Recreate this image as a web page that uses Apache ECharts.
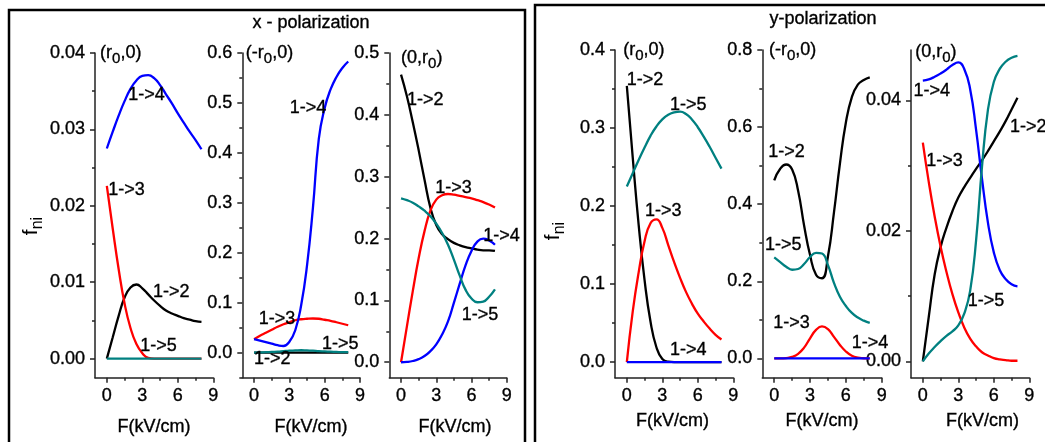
<!DOCTYPE html>
<html><head><meta charset="utf-8">
<script src="https://cdn.jsdelivr.net/npm/echarts@6/dist/echarts.min.js"></script>
<style>html,body{margin:0;padding:0;background:#fff}#c{width:1045px;height:442px}</style>
</head><body><div id="c"></div>
<script>
// ---------- data ----------
const F = [0,0.5,1,1.5,2,2.5,3,3.5,4,4.5,5,5.5,6,6.5,7,7.5,8];

// x - polarization, (r0,0)
const xr0_12 = [0,0.0028,0.0056,0.0080,0.0093,0.0097,0.0092,0.0084,0.0076,0.0069,0.0063,0.0059,0.0056,0.0053,0.0051,0.0049,0.0048];
const xr0_13 = [0.0226,0.0170,0.0117,0.0072,0.0040,0.0019,0.0007,0.0001,0,0,0,0,0,0,0,0,0];
const xr0_14 = [0.0275,0.0297,0.0318,0.0337,0.0353,0.0364,0.0370,0.0371,0.0367,0.0358,0.0346,0.0334,0.0321,0.0309,0.0297,0.0286,0.0274];
const xr0_15 = [0,0,0,0,0,0,0,0,0,0,0,0,0,0,0,0,0];
// x - polarization, (-r0,0)
const xmr0_12 = [0,0,0,0,0,0,0,0,0,0,0,0,0,0,0,0,0];
const xmr0_13 = [0.027,0.034,0.040,0.046,0.052,0.057,0.061,0.065,0.067,0.068,0.0685,0.068,0.066,0.064,0.061,0.058,0.055];
const xmr0_14 = [0.027,0.024,0.021,0.018,0.015,0.0135,0.022,0.045,0.095,0.175,0.29,0.428,0.49,0.527,0.552,0.57,0.583];
const xmr0_15 = [0,0.0005,0.001,0.0015,0.002,0.003,0.004,0.0045,0.005,0.0045,0.004,0.003,0.0025,0.002,0.0015,0.001,0.001];
// x - polarization, (0,r0)
const x0r0_12 = [0.465,0.43,0.388,0.343,0.295,0.250,0.222,0.207,0.199,0.193,0.189,0.186,0.184,0.182,0.181,0.181,0.180];
const x0r0_13 = [0,0.058,0.115,0.168,0.212,0.245,0.263,0.270,0.272,0.271,0.269,0.267,0.265,0.262,0.259,0.255,0.250];
const x0r0_14 = [0,0.0005,0.002,0.005,0.010,0.018,0.029,0.045,0.066,0.096,0.127,0.157,0.180,0.195,0.200,0.197,0.190];
const x0r0_15 = [0.265,0.262,0.258,0.252,0.245,0.236,0.224,0.209,0.190,0.166,0.140,0.117,0.103,0.097,0.098,0.106,0.118];
// y-polarization, (r0,0)
const yr0_12 = [0.354,0.262,0.176,0.105,0.052,0.019,0.004,0.0005,0,0,0,0,0,0,0,0,0];
const yr0_13 = [0,0.065,0.115,0.155,0.178,0.183,0.172,0.150,0.128,0.108,0.090,0.075,0.062,0.052,0.043,0.035,0.029];
const yr0_14 = [0,0,0,0,0,0,0,0,0,0,0,0,0,0,0,0,0];
const yr0_15 = [0.225,0.242,0.259,0.275,0.290,0.302,0.311,0.317,0.320,0.321,0.318,0.311,0.301,0.289,0.276,0.262,0.248];
// y-polarization, (-r0,0)
const ymr0_12 = [0.462,0.492,0.503,0.490,0.435,0.345,0.268,0.217,0.208,0.265,0.378,0.505,0.612,0.678,0.710,0.722,0.729];
const ymr0_13 = [0,0,0.001,0.004,0.012,0.028,0.052,0.074,0.083,0.076,0.056,0.035,0.018,0.007,0.002,0.0005,0];
const ymr0_14 = [0,0,0,0,0,0,0,0,0,0,0,0,0,0,0,0,0];
const ymr0_15 = [0.262,0.250,0.238,0.230,0.232,0.245,0.263,0.274,0.272,0.242,0.196,0.160,0.136,0.118,0.106,0.098,0.092];
// y-polarization, (0,r0)
const y0r0_12 = [0,0.0068,0.0133,0.0175,0.0205,0.0230,0.0251,0.0267,0.0281,0.0295,0.0308,0.0322,0.0337,0.0352,0.0368,0.0386,0.0404];
const y0r0_13 = [0.0335,0.0275,0.0222,0.0176,0.0137,0.0103,0.0075,0.0052,0.0035,0.0023,0.0014,0.0009,0.0005,0.0003,0.0002,0.0001,0.0001];
const y0r0_14 = [0.0430,0.0432,0.0436,0.0441,0.0447,0.0454,0.0458,0.0448,0.0417,0.0355,0.0280,0.0213,0.0167,0.0140,0.0126,0.0118,0.0115];
const y0r0_15 = [0,0.0012,0.0022,0.0031,0.0039,0.0046,0.0055,0.0073,0.0108,0.0185,0.0298,0.0385,0.0428,0.0448,0.0459,0.0465,0.0468];

// tick labels
const xMajor = [0,3,6,9];
const xMinor = [1.5,4.5,7.5];
const p1Major = [0,0.01,0.02,0.03,0.04], p1Minor = [0.005,0.015,0.025,0.035];
const p2Major = [0,0.1,0.2,0.3,0.4,0.5,0.6], p2Minor = [-0.05,0.05,0.15,0.25,0.35,0.45,0.55];
const p3Major = [0,0.1,0.2,0.3,0.4,0.5], p3Minor = [0.05,0.15,0.25,0.35,0.45];
const p4Major = [0,0.1,0.2,0.3,0.4], p4Minor = [0.05,0.15,0.25,0.35];
const p5Major = [0,0.2,0.4,0.6,0.8], p5Minor = [0.1,0.3,0.5,0.7];
const p6Major = [0,0.02,0.04], p6Minor = [0.01,0.03];

// text labels (anchored in data coordinates: left edge, vertical middle)
const xr0_notes  = [[-0.57,0.0400,'(r{s|0},0)'],[1.81,0.0345,'1->4'],[0.11,0.0221,'1->3'],[3.9,0.0087,'1->2'],[2.83,0.0017,'1->5']];
const xmr0_notes = [[-0.7,0.6,'(-r{s|0},0)'],[3.04,0.49,'1->4'],[0.4,0.067,'1->3'],[5.77,0.017,'1->5'],[0,-0.013,'1->2']];
const x0r0_notes = [[0,0.492,'(0,r{s|0})'],[0.51,0.424,'1->2'],[2.91,0.282,'1->3'],[7.01,0.204,'1->4'],[5.18,0.077,'1->5']];
const yr0_notes  = [[-0.31,0.4,'(r{s|0},0)'],[0,0.362,'1->2'],[3.65,0.330,'1->5'],[1.54,0.194,'1->3'],[3.65,0.0157,'1->4']];
const ymr0_notes = [[-0.44,0.8,'(-r{s|0},0)'],[-0.5,0.536,'1->2'],[-0.78,0.294,'1->5'],[-0.08,0.092,'1->3'],[6.49,0.039,'1->4']];
const y0r0_notes = [[-0.65,0.0474,'(0,r{s|0})'],[-0.79,0.0414,'1->4'],[0.28,0.0307,'1->3'],[7.37,0.0359,'1->2'],[3.8,0.0093,'1->5']];

// ---------- chart ----------
const FONT = "'Liberation Sans', Arial, sans-serif";
const COLORS = ['#000000','#ff0000','#0000ff','#008080'];
const AX = '#222';
const panels = [
  {grid:{left:95,   top:53, width:118.3, height:324.7}, ymin:-0.0025, ymax:0.04,   major:p1Major, minor:p1Minor, dec:2, s:[xr0_12,xr0_13,xr0_14,xr0_15], notes:xr0_notes},
  {grid:{left:242.3,top:53, width:117.7, height:324.7}, ymin:-0.05,   ymax:0.6,    major:p2Major, minor:p2Minor, dec:1, s:[xmr0_12,xmr0_13,xmr0_14,xmr0_15], notes:xmr0_notes},
  {grid:{left:389.3,top:53, width:117.4, height:324.7}, ymin:-0.025,  ymax:0.5,    major:p3Major, minor:p3Minor, dec:1, s:[x0r0_12,x0r0_13,x0r0_14,x0r0_15], notes:x0r0_notes},
  {grid:{left:615,  top:50, width:118.3, height:327.7}, ymin:-0.02,   ymax:0.4,    major:p4Major, minor:p4Minor, dec:1, s:[yr0_12,yr0_13,yr0_14,yr0_15], notes:yr0_notes},
  {grid:{left:762.3,top:50, width:119.4, height:327.7}, ymin:-0.05,   ymax:0.8,    major:p5Major, minor:p5Minor, dec:1, s:[ymr0_12,ymr0_13,ymr0_14,ymr0_15], notes:ymr0_notes},
  {grid:{left:911,  top:50, width:118.3, height:327.7}, ymin:-0.0025, ymax:0.0477, major:p6Major, minor:p6Minor, dec:2, s:[y0r0_12,y0r0_13,y0r0_14,y0r0_15], notes:y0r0_notes}
];
const lbl = {color:'#000', fontSize:18, fontFamily:FONT, textBorderColor:'#000', textBorderWidth:0.35};
const rich = {s:{fontSize:15, fontFamily:FONT, color:'#000', textBorderColor:'#000', textBorderWidth:0.35, padding:[12,0,0,0]}};
const grid=[], xAxis=[], yAxis=[], series=[];
panels.forEach((p,i)=>{
  grid.push(Object.assign({containLabel:false}, p.grid));
  xAxis.push({type:'value', gridIndex:i, min:-1, max:9, position:'bottom',
    axisLine:{onZero:false, lineStyle:{color:AX,width:1.5}},
    axisTick:{customValues:xMajor, length:5, lineStyle:{color:AX,width:1.5}},
    axisLabel:Object.assign({customValues:xMajor, margin:9}, lbl),
    splitLine:{show:false}});
  xAxis.push({type:'value', gridIndex:i, min:-1, max:9, position:'bottom',
    axisLine:{show:false, onZero:false},
    axisTick:{customValues:xMinor, length:3, lineStyle:{color:AX,width:1.5}},
    axisLabel:{show:false}, splitLine:{show:false}});
  yAxis.push({type:'value', gridIndex:i, min:p.ymin, max:p.ymax, position:'left',
    axisLine:{onZero:false, lineStyle:{color:AX,width:1.5}},
    axisTick:{customValues:p.major, length:5, lineStyle:{color:AX,width:1.5}},
    axisLabel:Object.assign({customValues:p.major, margin:10, formatter:v=>Number(v).toFixed(p.dec)}, lbl),
    splitLine:{show:false}});
  yAxis.push({type:'value', gridIndex:i, min:p.ymin, max:p.ymax, position:'left',
    axisLine:{show:false, onZero:false},
    axisTick:{customValues:p.minor, length:3, lineStyle:{color:AX,width:1.5}},
    axisLabel:{show:false}, splitLine:{show:false}});
  p.s.forEach((vals,k)=>{
    series.push({type:'line', xAxisIndex:2*i, yAxisIndex:2*i, showSymbol:false, smooth:0.5,
      data:F.map((x,j)=>[x,vals[j]]), lineStyle:{color:COLORS[k], width:2.3}, itemStyle:{color:COLORS[k]},
      silent:true, animation:false, clip:false});
  });
  series.push({type:'scatter', xAxisIndex:2*i, yAxisIndex:2*i, symbolSize:0, silent:true, animation:false,
    itemStyle:{opacity:1, color:'#000'},
    data:p.notes.map(n=>({value:[n[0],n[1]], label:{formatter:()=>n[2]}})),
    label:Object.assign({show:true, position:'right', distance:0, opacity:1, rich:rich}, lbl), z:5});
});
const xTitleX = [154,311,455,672.5,822,982.5];
const T = (txt,x,y)=>({type:'text', x:x, y:y, style:{text:txt, font:'18px '+FONT, fill:'#000', stroke:'#000', lineWidth:0.35, textAlign:'center', textVerticalAlign:'middle'}});
const fni = (x,y)=>({type:'text', x:x, y:y, rotation:Math.PI/2, style:{text:'{a|f}{b|ni}', rich:{a:{fontSize:21,fontFamily:FONT,fill:'#000'}, b:{fontSize:16,fontFamily:FONT,fill:'#000',padding:[13,0,0,0]}}, textAlign:'center', textVerticalAlign:'middle'}});
const graphic = [
  {type:'rect', shape:{x:9,y:10,width:516,height:470}, style:{fill:'none',stroke:'#000',lineWidth:2.5}, silent:true},
  {type:'rect', shape:{x:535,y:5,width:530,height:470}, style:{fill:'none',stroke:'#000',lineWidth:2.5}, silent:true},
  T('x - polarization',311,23), T('y-polarization',823,19),
  fni(31,226), fni(553,231)
];
xTitleX.forEach((x,i)=>graphic.push(T('F(kV/cm)', x, i<3?427:421)));
const chart = echarts.init(document.getElementById('c'), null, {renderer:'canvas'});
chart.setOption({animation:false, backgroundColor:'#fff', grid, xAxis, yAxis, series, graphic});
</script></body></html>
